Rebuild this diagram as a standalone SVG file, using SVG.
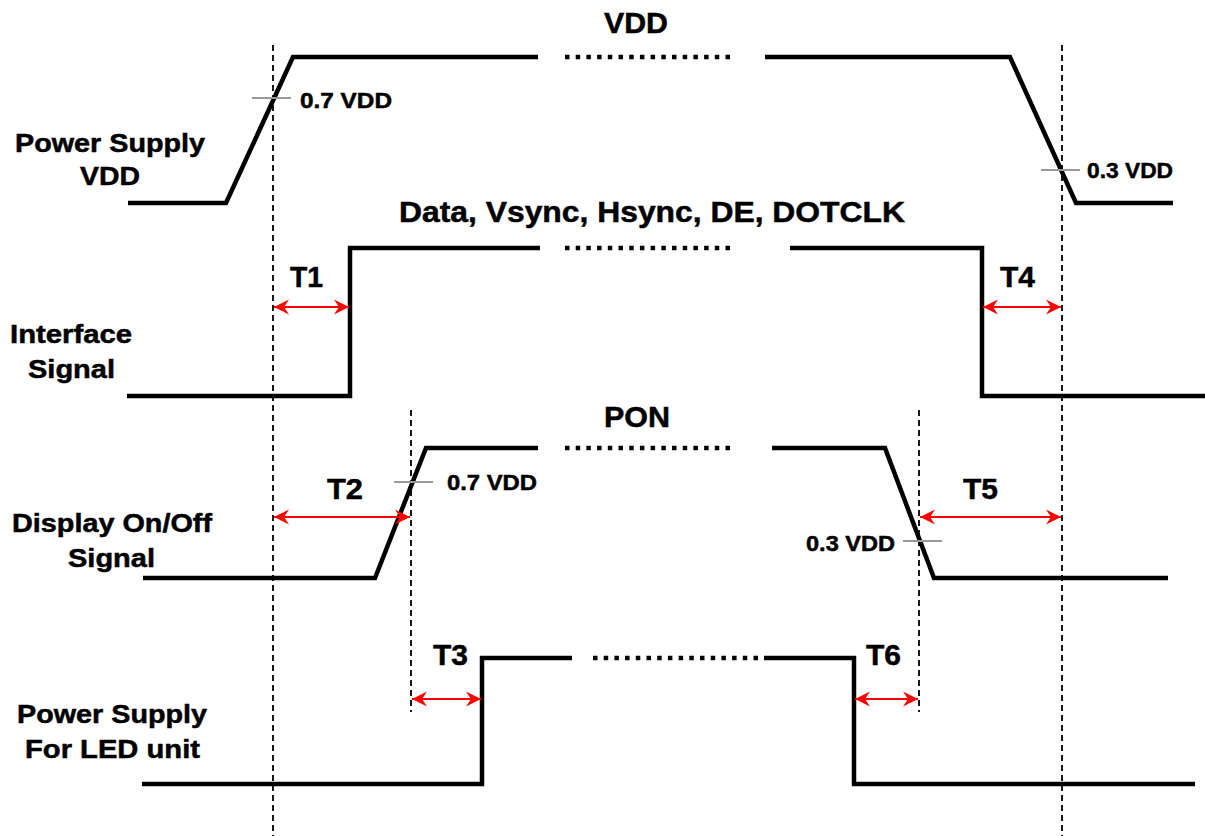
<svg xmlns="http://www.w3.org/2000/svg" width="1205" height="836" viewBox="0 0 1205 836">
<style>
text{font-family:"Liberation Sans",Arial,Helvetica,sans-serif;font-weight:bold;fill:#000;stroke:#000;stroke-width:0.5}
.lbl{font-size:26px}
.big{font-size:30px}
.sm{font-size:22px}
.tr{fill:none;stroke:#000;stroke-width:4.5;stroke-linejoin:miter;stroke-linecap:butt}
.dot{fill:none;stroke:#000;stroke-width:4.5;stroke-dasharray:4.5 6.2}
.dash{fill:none;stroke:#000;stroke-width:1.8;stroke-dasharray:6 4}
.tick{stroke:#999;stroke-width:2}
.arr{stroke:#ff0000;stroke-width:2;fill:none;marker-start:url(#ah);marker-end:url(#ah)}
</style>
<defs>
<marker id="ah" markerUnits="userSpaceOnUse" markerWidth="18" markerHeight="18" viewBox="-16 -8 18 16" refX="0" refY="0" orient="auto-start-reverse">
<path d="M0,0 L-15,-7.5 L-10,0 L-15,7.5 Z" fill="#ff0000"/>
</marker>
</defs>
<rect width="1205" height="836" fill="#fff"/>

<g id="guides">
<line class="dash" x1="273" y1="45" x2="273" y2="836"/>
<line class="dash" x1="1062" y1="45" x2="1062" y2="836"/>
<line class="dash" x1="411" y1="410" x2="411" y2="712"/>
<line class="dash" x1="919" y1="410" x2="919" y2="712"/>
</g>

<g id="vdd">
<path class="tr" d="M128,203 H226 L293,57 H538"/>
<line class="dot" x1="565" y1="57" x2="732" y2="57"/>
<path class="tr" d="M765,57 H1010 L1076,203 H1173"/>
<line class="tick" x1="252" y1="98" x2="291" y2="98"/>
<line class="tick" x1="1041" y1="170" x2="1080" y2="170"/>
<text class="sm" x="300" y="108" textLength="92" lengthAdjust="spacingAndGlyphs">0.7 VDD</text>
<text class="sm" x="1087" y="178" textLength="86" lengthAdjust="spacingAndGlyphs">0.3 VDD</text>
<text class="big" x="604" y="33" textLength="64" lengthAdjust="spacingAndGlyphs">VDD</text>
<text class="lbl" x="15" y="152" textLength="190" lengthAdjust="spacingAndGlyphs">Power Supply</text>
<text class="lbl" x="80" y="185" textLength="60" lengthAdjust="spacingAndGlyphs">VDD</text>
</g>

<g id="interface">
<path class="tr" d="M127,396 H350 V248 H540"/>
<line class="dot" x1="565" y1="248" x2="732" y2="248"/>
<path class="tr" d="M790,248 H982 V396 H1205"/>
<text class="big" x="399" y="222" textLength="506" lengthAdjust="spacingAndGlyphs">Data, Vsync, Hsync, DE, DOTCLK</text>
<text class="lbl" x="10" y="343" textLength="122" lengthAdjust="spacingAndGlyphs">Interface</text>
<text class="lbl" x="28" y="378" textLength="87" lengthAdjust="spacingAndGlyphs">Signal</text>
</g>

<g id="display">
<path class="tr" d="M143,578 H375 L426,448 H538"/>
<line class="dot" x1="565" y1="448" x2="732" y2="448"/>
<path class="tr" d="M772,448 H885 L934,578 H1168"/>
<line class="tick" x1="394" y1="482" x2="433" y2="482"/>
<line class="tick" x1="903" y1="541" x2="942" y2="541"/>
<text class="sm" x="447" y="490" textLength="90" lengthAdjust="spacingAndGlyphs">0.7 VDD</text>
<text class="sm" x="806" y="551" textLength="89" lengthAdjust="spacingAndGlyphs">0.3 VDD</text>
<text class="big" x="604" y="427" textLength="66" lengthAdjust="spacingAndGlyphs">PON</text>
<text class="lbl" x="12" y="532" textLength="200" lengthAdjust="spacingAndGlyphs">Display On/Off</text>
<text class="lbl" x="68" y="567" textLength="87" lengthAdjust="spacingAndGlyphs">Signal</text>
</g>

<g id="led">
<path class="tr" d="M142,784 H482 V658 H572"/>
<line class="dot" x1="593" y1="658" x2="760" y2="658"/>
<path class="tr" d="M764,658 H854 V784 H1195"/>
<text class="lbl" x="17" y="723" textLength="190" lengthAdjust="spacingAndGlyphs">Power Supply</text>
<text class="lbl" x="25" y="758" textLength="175" lengthAdjust="spacingAndGlyphs">For LED unit</text>
</g>

<g id="connectors">
<line class="arr" x1="274" y1="307" x2="349" y2="307"/>
<line class="arr" x1="983" y1="307" x2="1061" y2="307"/>
<line class="arr" x1="274" y1="517" x2="410" y2="517"/>
<line class="arr" x1="920" y1="517" x2="1061" y2="517"/>
<line class="arr" x1="412" y1="699" x2="481" y2="699"/>
<line class="arr" x1="855" y1="699" x2="918" y2="699"/>
<text class="big" x="290" y="287" textLength="33" lengthAdjust="spacingAndGlyphs">T1</text>
<text class="big" x="1000" y="287" textLength="35" lengthAdjust="spacingAndGlyphs">T4</text>
<text class="big" x="327" y="499" textLength="36" lengthAdjust="spacingAndGlyphs">T2</text>
<text class="big" x="963" y="499" textLength="35" lengthAdjust="spacingAndGlyphs">T5</text>
<text class="big" x="433" y="665" textLength="35" lengthAdjust="spacingAndGlyphs">T3</text>
<text class="big" x="866" y="665" textLength="35" lengthAdjust="spacingAndGlyphs">T6</text>
</g>
</svg>
